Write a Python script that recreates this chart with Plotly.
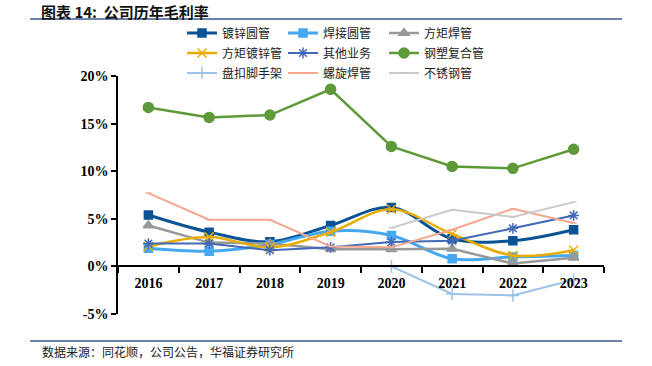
import plotly.graph_objects as go

years = ["2016", "2017", "2018", "2019", "2020", "2021", "2022", "2023"]

dx_yuan = [5.4, 3.6, 2.6, 4.3, 6.2, 2.9, 2.7, 3.85]      # 镀锌圆管
hj_yuan = [1.9, 1.6, 2.3, 3.7, 3.25, 0.8, 1.0, 1.15]     # 焊接圆管
fj_han = [4.3, 2.5, 2.4, 1.8, 1.8, 1.85, 0.3, 0.9]       # 方矩焊管
fj_dx = [2.1, 3.1, 2.0, 3.6, 6.0, 3.4, 1.15, 1.7]        # 方矩镀锌管
qita = [2.4, 2.4, 1.7, 2.0, 2.55, 2.7, 4.0, 5.35]        # 其他业务
gangsu = [16.7, 15.65, 15.9, 18.6, 12.6, 10.5, 10.3, 12.3]  # 钢塑复合管
pankou = [None, None, None, None, 0.0, -2.9, -3.05, -1.4]  # 盘扣脚手架
luoxuan = [7.7, 4.9, 4.9, 2.1, 2.0, 3.85, 6.05, 4.55]     # 螺旋焊管
buxiu = [None, None, None, None, 4.05, 5.95, 5.2, 6.75]    # 不锈钢管

yticks = [-5, 0, 5, 10, 15, 20]
ytext = ["-5%", "0%", "5%", "10%", "15%", "20%"]

series = [
    ("镀锌圆管", dx_yuan, "#0b5394", "square", 8, 3, "spline", "legend"),
    ("焊接圆管", hj_yuan, "#45a8f0", "square", 8, 3, "spline", "legend"),
    ("方矩焊管", fj_han, "#999999", "triangle-up", 9, 2.5, "linear", "legend"),
    ("方矩镀锌管", fj_dx, "#e8ad00", "x-thin-open", 9, 2.5, "spline", "legend2"),
    ("其他业务", qita, "#4169b8", "asterisk-open", 9, 2, "linear", "legend2"),
    ("钢塑复合管", gangsu, "#5e9a39", "circle", 10, 2.5, "linear", "legend2"),
    ("盘扣脚手架", pankou, "#9ec3e8", "cross-thin-open", 9, 2, "linear", "legend3"),
    ("螺旋焊管", luoxuan, "#f5a78d", "line-ew-open", 4, 2, "linear", "legend3"),
    ("不锈钢管", buxiu, "#c9c9c9", "line-ew-open", 4, 2, "linear", "legend3"),
]

fig = go.Figure()
for name, vals, col, sym, msz, lw, shape, lg in series:
    fig.add_trace(go.Scatter(
        x=years, y=vals, name=name, mode="lines+markers",
        line=dict(color=col, width=lw, shape=shape),
        marker=dict(symbol=sym, size=msz, color=col, line=dict(color=col, width=1.5)),
        legend=lg, connectgaps=False,
    ))

W, H = 652, 366
L, R, T, B = 118, 48, 76, 52
pw = W - L - R
ph = H - T - B


def py(ypix):
    return (H - B - ypix) / ph


def px(xpix):
    return (xpix - L) / pw


legend_common = dict(
    orientation="h", xref="paper", yref="paper", xanchor="left", yanchor="middle",
    entrywidth=56, entrywidthmode="pixels", bgcolor="rgba(0,0,0,0)",
    font=dict(family="Noto Sans CJK SC", size=12, color="#222222"),
    itemwidth=30, tracegroupgap=0,
)
x0 = px(182)
fig.update_layout(
    width=W, height=H,
    margin=dict(l=L, r=R, t=T, b=B, autoexpand=False),
    paper_bgcolor="white", plot_bgcolor="white",
    showlegend=True,
    legend=dict(legend_common, x=x0, y=py(33)),
    legend2=dict(legend_common, x=x0, y=py(53)),
    legend3=dict(legend_common, x=x0, y=py(73)),
    xaxis=dict(
        type="category", range=[-0.5, 7.5], anchor="free", position=5 / 25,
        showline=True, linecolor="black", linewidth=1.5,
        ticks="outside", tickson="boundaries", ticklen=6, tickcolor="black", tickwidth=1.5,
        showgrid=False, zeroline=False, ticklabelstandoff=4,
        tickfont=dict(family="Liberation Serif", size=14, color="black", weight="bold"),
    ),
    yaxis=dict(
        range=[-5, 20], tickvals=yticks, ticktext=ytext,
        showline=True, linecolor="black", linewidth=1.5,
        ticks="outside", ticklen=5, tickcolor="black", tickwidth=1.5,
        showgrid=False, zeroline=False,
        tickfont=dict(family="Liberation Serif", size=14, color="black", weight="bold"),
    ),
)

fig.add_shape(type="line", xref="paper", yref="paper", x0=px(30), x1=px(622), y0=py(19), y1=py(19),
              line=dict(color="#3b5b92", width=1.5))
fig.add_shape(type="line", xref="paper", yref="paper", x0=px(30), x1=px(622), y0=py(341), y1=py(341),
              line=dict(color="#3b5b92", width=1.5))
fig.add_annotation(text="<b>图表 14:  公司历年毛利率</b>", xref="paper", yref="paper",
                   x=px(40), y=py(11), xanchor="left", yanchor="middle", showarrow=False,
                   borderpad=0,
                   font=dict(family="Noto Sans CJK SC", size=15, color="#111111"))
fig.add_annotation(text="数据来源：同花顺，公司公告，华福证券研究所", xref="paper", yref="paper",
                   x=px(40), y=py(351), xanchor="left", yanchor="middle", showarrow=False,
                   font=dict(family="Noto Sans CJK SC", size=12, color="#222222"))

fig.write_html("out.html", config={"displayModeBar": False},
               post_script="document.body.style.margin='0';")
